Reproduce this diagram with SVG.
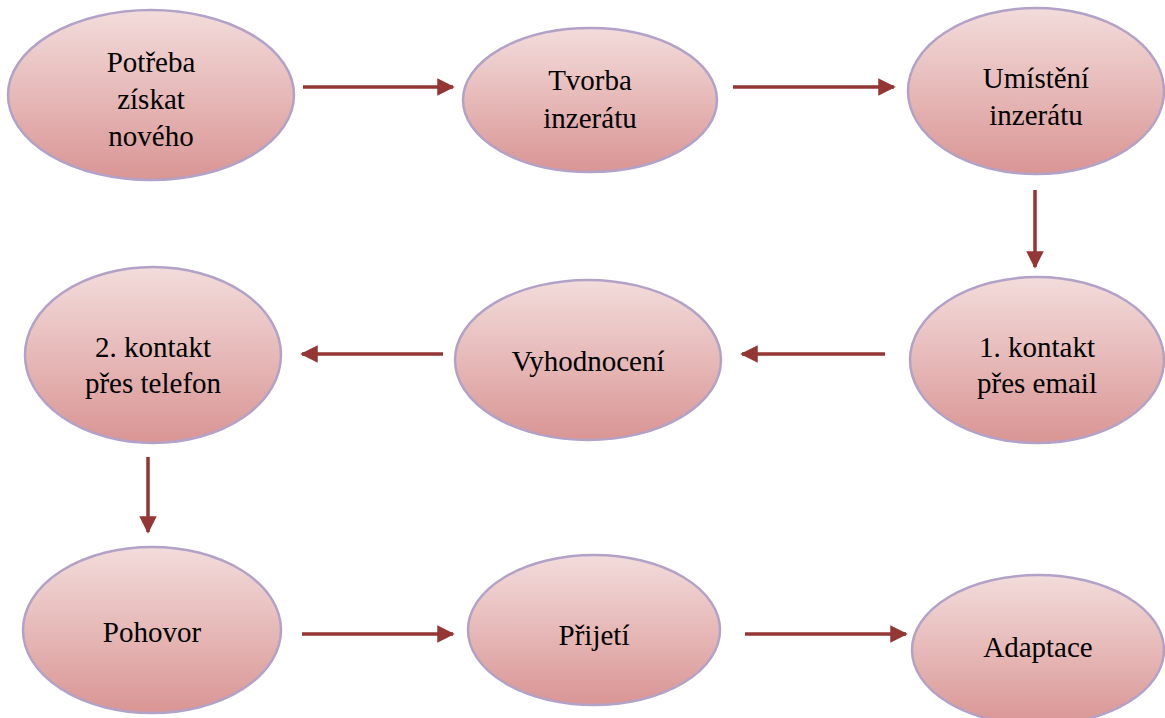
<svg xmlns="http://www.w3.org/2000/svg" width="1165" height="718" viewBox="0 0 1165 718">
<defs>
<linearGradient id="g" x1="0" y1="0" x2="0" y2="1">
<stop offset="0" stop-color="#f2dcdb"/>
<stop offset="0.5" stop-color="#e6b9b8"/>
<stop offset="1" stop-color="#d99594"/>
</linearGradient>
<marker id="ah" markerWidth="5" markerHeight="5" refX="4.5" refY="2.5" orient="auto" markerUnits="strokeWidth">
<path d="M0,0 L5,2.5 L0,5 z" fill="#943634"/>
</marker>
<style>
.n{fill:url(#g);stroke:#b3a2c7;stroke-width:2.5}
.t{font-family:'Liberation Serif','Times New Roman',serif;font-size:29px;fill:#000;text-anchor:middle}
.c line{stroke:#943634;stroke-width:3.5;marker-end:url(#ah)}
</style>
</defs>
<rect width="1165" height="718" fill="#fff"/>
<g class="c" id="connectors">
<line x1="303" y1="87" x2="453" y2="87"/>
<line x1="733" y1="87" x2="894" y2="87"/>
<line x1="1035" y1="190" x2="1035" y2="267"/>
<line x1="885" y1="354" x2="742" y2="354"/>
<line x1="443" y1="354" x2="302" y2="354"/>
<line x1="148" y1="457" x2="148" y2="532"/>
<line x1="302" y1="634" x2="453" y2="634"/>
<line x1="745" y1="634" x2="906" y2="634"/>
</g>
<g id="n1"><ellipse class="n" cx="151" cy="95" rx="143" ry="85"/>
<text class="t" x="151" y="72">Potřeba</text><text class="t" x="151" y="109">získat</text><text class="t" x="151" y="146">nového</text></g>
<g id="n2"><ellipse class="n" cx="590" cy="100" rx="127" ry="72"/>
<text class="t" x="590" y="90">Tvorba</text><text class="t" x="590" y="128">inzerátu</text></g>
<g id="n3"><ellipse class="n" cx="1036" cy="91" rx="128" ry="83"/>
<text class="t" x="1036" y="88">Umístění</text><text class="t" x="1036" y="125">inzerátu</text></g>
<g id="n4"><ellipse class="n" cx="1037" cy="360" rx="127" ry="83"/>
<text class="t" x="1037" y="357">1. kontakt</text><text class="t" x="1037" y="393">přes email</text></g>
<g id="n5"><ellipse class="n" cx="588" cy="360" rx="133" ry="80"/>
<text class="t" x="588" y="371">Vyhodnocení</text></g>
<g id="n6"><ellipse class="n" cx="153" cy="355" rx="128" ry="88"/>
<text class="t" x="153" y="357">2. kontakt</text><text class="t" x="153" y="393">přes telefon</text></g>
<g id="n7"><ellipse class="n" cx="152" cy="630" rx="129" ry="83"/>
<text class="t" x="152" y="642">Pohovor</text></g>
<g id="n8"><ellipse class="n" cx="594" cy="630" rx="126" ry="75"/>
<text class="t" x="594" y="645">Přijetí</text></g>
<g id="n9"><ellipse class="n" cx="1038" cy="650" rx="126" ry="75"/>
<text class="t" x="1038" y="657">Adaptace</text></g>
</svg>
